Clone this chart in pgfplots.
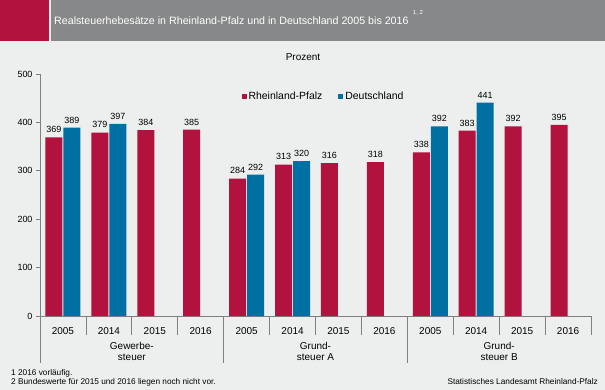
\documentclass[border=0pt]{standalone}
\usepackage{pgfplots}
\pgfplotsset{compat=1.18}
\usepackage{fontspec}
\setmainfont{Liberation Sans}
\definecolor{rpred}{RGB}{178,18,62}
\definecolor{deblue}{RGB}{0,112,163}
\definecolor{bg}{RGB}{237,238,238}
\definecolor{titlegrey}{RGB}{135,136,137}
\definecolor{axgrey}{RGB}{128,128,128}
\begin{document}
\begin{tikzpicture}
\useasboundingbox (0bp,0bp) rectangle (605bp,390bp);
\fill[bg] (0bp,0bp) rectangle (605bp,390bp);
\fill[rpred] (0bp,349bp) rectangle (49bp,390bp);
\fill[titlegrey] (51bp,349bp) rectangle (605bp,390bp);
\node[anchor=base west, text=white, font=\fontsize{10.7}{13}\selectfont, inner sep=0pt] (t) at (54bp,365bp) {Realsteuerhebesätze in Rheinland-Pfalz und in Deutschland 2005 bis 2016};
\node[anchor=base west, text=white, font=\fontsize{6}{7}\selectfont, inner sep=0pt] at ([xshift=4bp,yshift=10bp]t.base east) {1, 2};
\node[font=\fontsize{10}{12}\selectfont, inner sep=0pt] at (303bp,333bp) {Prozent};
\begin{axis}[
  at={(40bp,74bp)}, anchor=south west, scale only axis,
  width=551bp, height=242bp,
  xmin=-0.5, xmax=11.5, ymin=0, ymax=500,
  ybar=1bp, bar width=17bp,
  clip=false,
  axis x line*=bottom, axis y line*=left,
  axis line style={draw=axgrey, line width=0.8bp, -},
  ytick={0,100,...,500},
  tick align=outside,
  ytick style={draw=axgrey, line width=0.8bp},
  major tick length=4bp,
  xtick={0,...,11},
  xtick style={draw=none},
  xticklabels={2005,2014,2015,2016,2005,2014,2015,2016,2005,2014,2015,2016},
  xticklabel style={anchor=center, yshift=-11bp, font=\fontsize{10}{12}\selectfont},
  yticklabel style={font=\fontsize{9}{11}\selectfont},
  /pgf/number format/assume math mode=true,
  nodes near coords,
  every node near coord/.append style={font=\fontsize{9}{11}\selectfont, yshift=1bp},
  legend style={draw=none, fill=none, at={(0.36,0.909)}, anchor=west, legend columns=2,
     font=\fontsize{10.5}{12}\selectfont,
     /tikz/every even column/.append style={column sep=14bp}},
  legend image code/.code={\fill[#1, draw=none] (0bp,-2.5bp) rectangle (5bp,2.5bp);},
]
\addplot[fill=rpred, draw=none] coordinates {(0,369)(1,379)(2,384)(3,385)(4,284)(5,313)(6,316)(7,318)(8,338)(9,383)(10,392)(11,395)};
\addplot[fill=deblue, draw=none] coordinates {(0,389)(1,397)(4,292)(5,320)(8,392)(9,441)};
\legend{Rheinland-Pfalz,Deutschland}
\pgfplotsinvokeforeach{0.5,1.5,2.5,4.5,5.5,6.5,8.5,9.5,10.5,11.5}{
  \draw[axgrey, line width=0.8bp] (axis cs:#1,0) -- ++(0bp,-19bp);
}
\pgfplotsinvokeforeach{-0.5,3.5,7.5}{
  \draw[axgrey, line width=0.8bp] (axis cs:#1,0) -- ++(0bp,-47bp);
}
\node[align=center, anchor=north, inner sep=0pt, font=\fontsize{10}{11.5}\selectfont] at ([yshift=-26bp]axis cs:1.5,0) {Gewerbe-\\steuer};
\node[align=center, anchor=north, inner sep=0pt, font=\fontsize{10}{11.5}\selectfont] at ([yshift=-26bp]axis cs:5.5,0) {Grund-\\steuer A};
\node[align=center, anchor=north, inner sep=0pt, font=\fontsize{10}{11.5}\selectfont] at ([yshift=-26bp]axis cs:9.5,0) {Grund-\\steuer B};
\end{axis}
\node[anchor=base west, inner sep=0pt, font=\fontsize{8.3}{10}\selectfont] at (11bp,15bp) {1 2016 vorläufig.};
\node[anchor=base west, inner sep=0pt, font=\fontsize{8.3}{10}\selectfont] at (11bp,5.5bp) {2 Bundeswerte für 2015 und 2016 liegen noch nicht vor.};
\node[anchor=base east, inner sep=0pt, font=\fontsize{8.3}{10}\selectfont] at (598bp,5.5bp) {Statistisches Landesamt Rheinland-Pfalz};
\end{tikzpicture}
\end{document}
